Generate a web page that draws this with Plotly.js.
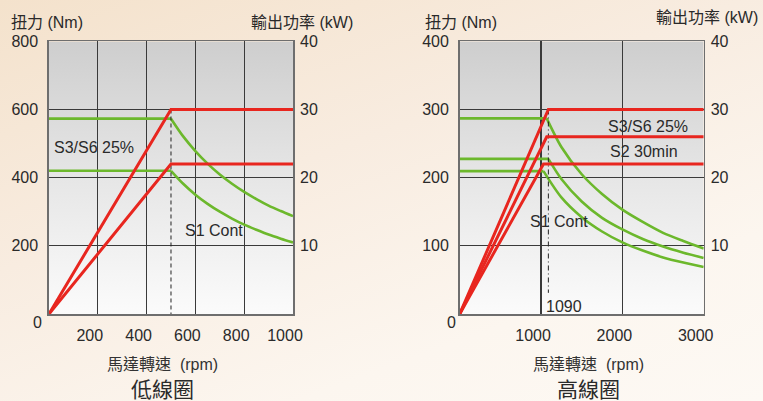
<!DOCTYPE html>
<html>
<head>
<meta charset="utf-8">
<script src="https://cdn.plot.ly/plotly-3.0.1.min.js"></script>
<style>
  html, body { margin: 0; padding: 0; }
  body { width: 763px; height: 401px; overflow: hidden;
    background: linear-gradient(160deg, #f4e2cc 0%, #f8ece0 40%, #fcf6ef 75%, #fdf9f4 100%); }
  #chart { width: 763px; height: 401px; }
</style>
</head>
<body>
<div id="chart"></div>
<script>
// ---------- 低線圈 (low winding) ----------
const lowPowerRpmS3 = [0, 500, 1000];
const lowPowerS3 = [0, 30, 30];          // kW
const lowPowerRpmS1 = [0, 500, 1000];
const lowPowerS1 = [0, 22, 22];          // kW
const lowTorqueRpm = [0, 500, 550, 600, 650, 700, 750, 800, 850, 900, 950, 1000];
const lowTorqueS3 = [573, 573, 521, 478, 441, 409, 382, 358, 337, 318, 302, 287]; // Nm
const lowTorqueS1 = [420, 420, 382, 350, 323, 300, 280, 262, 247, 233, 221, 210]; // Nm
const lowBaseRpm = 500;

// ---------- 高線圈 (high winding) ----------
const highPowerRpmS3 = [0, 1090, 3000];
const highPowerS3 = [0, 30, 30];
const highPowerRpmS2 = [0, 1070, 3000];
const highPowerS2 = [0, 26, 26];
const highPowerRpmS1 = [0, 1030, 3000];
const highPowerS1 = [0, 22, 22];
const highTorqueRpmS3 = [0, 1070, 1250, 1500, 1750, 2000, 2250, 2500, 2750, 3000];
const highTorqueS3 = [287, 287, 245, 205, 176, 153, 135, 119, 107, 96];
const highTorqueRpmS2 = [0, 1090, 1250, 1500, 1750, 2000, 2250, 2500, 2750, 3000];
const highTorqueS2 = [227.5, 227.5, 198, 165, 141, 124, 110, 99, 90, 82];
const highTorqueRpmS1 = [0, 1030, 1250, 1500, 1750, 2000, 2250, 2500, 2750, 3000];
const highTorqueS1 = [209.5, 209.5, 171, 142, 121, 105, 93, 83, 75.5, 69];
const highBaseRpm = 1090;

// ---------- ticks / labels ----------
const lowXTicks = [200, 400, 600, 800, 1000];
const lowYTicks = [200, 400, 600, 800];
const highXTicks = [1000, 2000, 3000];
const highYTicks = [100, 200, 300, 400];
const powerTicks = [10, 20, 30, 40];

const RED = '#e8261f';
const GREEN = '#6cb82c';
const TXT = '#2a2a2a';
const FONT = 'Liberation Sans, Arial, "Noto Sans CJK TC", sans-serif';

function line(x, y, xa, ya, lineSpec) {
  return { type: 'scatter', mode: 'lines', x: x, y: y, xaxis: xa, yaxis: ya,
    line: lineSpec, hoverinfo: 'skip', showlegend: false };
}
// torque curve: flat part (first two points) straight, falling part smooth
function torque(rpm, tq, xa, ya) {
  return [
    line(rpm.slice(0, 2), tq.slice(0, 2), xa, ya, { color: GREEN, width: 2.6 }),
    line(rpm.slice(1), tq.slice(1), xa, ya, { color: GREEN, width: 2.6, shape: 'spline', smoothing: 0.8 }),
  ];
}
const redSpec = { color: RED, width: 3 };

const traces = [].concat(
  torque(lowTorqueRpm, lowTorqueS3, 'x', 'y'),
  torque(lowTorqueRpm, lowTorqueS1, 'x', 'y'),
  [line([lowBaseRpm, lowBaseRpm], [lowTorqueS3[1] + 27, 0], 'x', 'y', { color: '#222', width: 1, dash: '4px,3px' }),
   line(lowPowerRpmS3, lowPowerS3, 'x', 'y2', redSpec),
   line(lowPowerRpmS1, lowPowerS1, 'x', 'y2', redSpec)],
  torque(highTorqueRpmS3, highTorqueS3, 'x2', 'y3'),
  torque(highTorqueRpmS2, highTorqueS2, 'x2', 'y3'),
  torque(highTorqueRpmS1, highTorqueS1, 'x2', 'y3'),
  [line([highBaseRpm, highBaseRpm], [300, 31], 'x2', 'y3', { color: '#222', width: 1, dash: '5px,3px,1px,3px' }),
   line(highPowerRpmS3, highPowerS3, 'x2', 'y4', redSpec),
   line(highPowerRpmS2, highPowerS2, 'x2', 'y4', redSpec),
   line(highPowerRpmS1, highPowerS1, 'x2', 'y4', redSpec)]
);

const gradSvg = "<svg xmlns='http://www.w3.org/2000/svg' width='10' height='100' preserveAspectRatio='none'>" +
  "<defs><linearGradient id='g' x1='0' y1='0' x2='0' y2='1'>" +
  "<stop offset='0' stop-color='#cecece'/><stop offset='0.5' stop-color='#e6e6e6'/><stop offset='1' stop-color='#fbfbfb'/>" +
  "</linearGradient></defs><rect width='10' height='100' fill='url(#g)'/></svg>";
const gradSrc = 'data:image/svg+xml;charset=utf-8,' + encodeURIComponent(gradSvg);

const yDom = [0.217, 0.897];
const lowXDom = [0.0642, 0.384];
const highXDom = [0.6025, 0.9223];

const tickFont = { family: FONT, size: 16, color: TXT };
const gridC = '#3a3a3a';
const borderC = '#6e6e6e';

function xAx(dom, rng, ticks, anchor) {
  return { domain: dom, range: rng, anchor: anchor, tickvals: ticks, ticks: '', showgrid: true,
    gridcolor: gridC, gridwidth: 1.1, showline: true, mirror: true, linecolor: borderC, linewidth: 1.6,
    zeroline: false, tickfont: tickFont, ticklabelshift: -8, ticklabelstandoff: 6, fixedrange: true };
}
function yAx(dom, rng, ticks, anchor) {
  return { domain: dom, range: rng, anchor: anchor, tickvals: ticks, ticks: '', showgrid: true,
    gridcolor: gridC, gridwidth: 1.1, showline: true, mirror: true, linecolor: borderC, linewidth: 1.6,
    zeroline: false, tickfont: tickFont, ticklabelstandoff: 6, fixedrange: true };
}
function pAx(over, anchor) {
  return { overlaying: over, side: 'right', anchor: anchor, range: [0, 40], tickvals: powerTicks, ticks: '',
    showgrid: false, showline: false, zeroline: false, tickfont: tickFont, ticklabelstandoff: 6, fixedrange: true };
}

function ann(text, x, y, xref, yref, xanchor, yanchor, size, extra) {
  return Object.assign({ text: text, x: x, y: y, xref: xref, yref: yref, xanchor: xanchor, yanchor: yanchor,
    showarrow: false, font: { family: FONT, size: size, color: TXT } }, extra || {});
}

const annotations = [
  // axis titles
  ann('扭力 (Nm)', 9 / 763, 1 - 23 / 401, 'paper', 'paper', 'left', 'middle', 16),
  ann('輸出功率 (kW)', 355 / 763, 1 - 23 / 401, 'paper', 'paper', 'right', 'middle', 16),
  ann('扭力 (Nm)', 423 / 763, 1 - 23 / 401, 'paper', 'paper', 'left', 'middle', 16),
  ann('輸出功率 (kW)', 760 / 763, 1 - 17 / 401, 'paper', 'paper', 'right', 'middle', 16),
  ann('馬達轉速  (rpm)', 162.5 / 763, 1 - 364 / 401, 'paper', 'paper', 'center', 'middle', 16, { font: { family: FONT, size: 16, color: '#333' } }),
  ann('馬達轉速  (rpm)', 588.5 / 763, 1 - 364 / 401, 'paper', 'paper', 'center', 'middle', 16, { font: { family: FONT, size: 16, color: '#333' } }),
  ann('低線圈', 162 / 763, 1 - 389 / 401, 'paper', 'paper', 'center', 'middle', 21),
  ann('高線圈', 588.7 / 763, 1 - 389 / 401, 'paper', 'paper', 'center', 'middle', 21),
  // origin zeros
  ann('0', 0, 0, 'x', 'y', 'center', 'middle', 16, { xshift: -11, yshift: -9 }),
  ann('0', 0, 0, 'x2', 'y3', 'center', 'middle', 16, { xshift: -8, yshift: -9 }),
  // curve labels
  ann('S3/S6 25%', 12, 489, 'x', 'y', 'left', 'middle', 16),
  ann('S1 Cont', 549, 246, 'x', 'y', 'left', 'middle', 16),
  ann('S3/S6 25%', 2835, 275.5, 'x2', 'y3', 'right', 'middle', 16),
  ann('S2 30min', 2705, 237.8, 'x2', 'y3', 'right', 'middle', 16),
  ann('S1 Cont', 840, 135, 'x2', 'y3', 'left', 'middle', 16),
  ann('1090', 1036, 11.7, 'x2', 'y3', 'left', 'middle', 16),
];

const layout = {
  width: 763, height: 401,
  margin: { l: 0, r: 0, t: 0, b: 0 },
  paper_bgcolor: 'rgba(0,0,0,0)',
  plot_bgcolor: 'rgba(0,0,0,0)',
  showlegend: false,
  font: { family: FONT, color: TXT },
  xaxis: xAx(lowXDom, [0, 1000], lowXTicks, 'y'),
  yaxis: yAx(yDom, [0, 800], lowYTicks, 'x'),
  yaxis2: pAx('y', 'x'),
  xaxis2: xAx(highXDom, [0, 3000], highXTicks, 'y3'),
  yaxis3: yAx(yDom, [0, 400], highYTicks, 'x2'),
  yaxis4: pAx('y3', 'x2'),
  images: [
    { source: gradSrc, xref: 'x', yref: 'y', x: 0, y: 800, sizex: 1000, sizey: 800,
      sizing: 'stretch', layer: 'below', xanchor: 'left', yanchor: 'top' },
    { source: gradSrc, xref: 'x2', yref: 'y3', x: 0, y: 400, sizex: 3000, sizey: 400,
      sizing: 'stretch', layer: 'below', xanchor: 'left', yanchor: 'top' },
  ],
  annotations: annotations,
};

Plotly.newPlot('chart', traces, layout, { staticPlot: true, displayModeBar: false });
</script>
</body>
</html>
